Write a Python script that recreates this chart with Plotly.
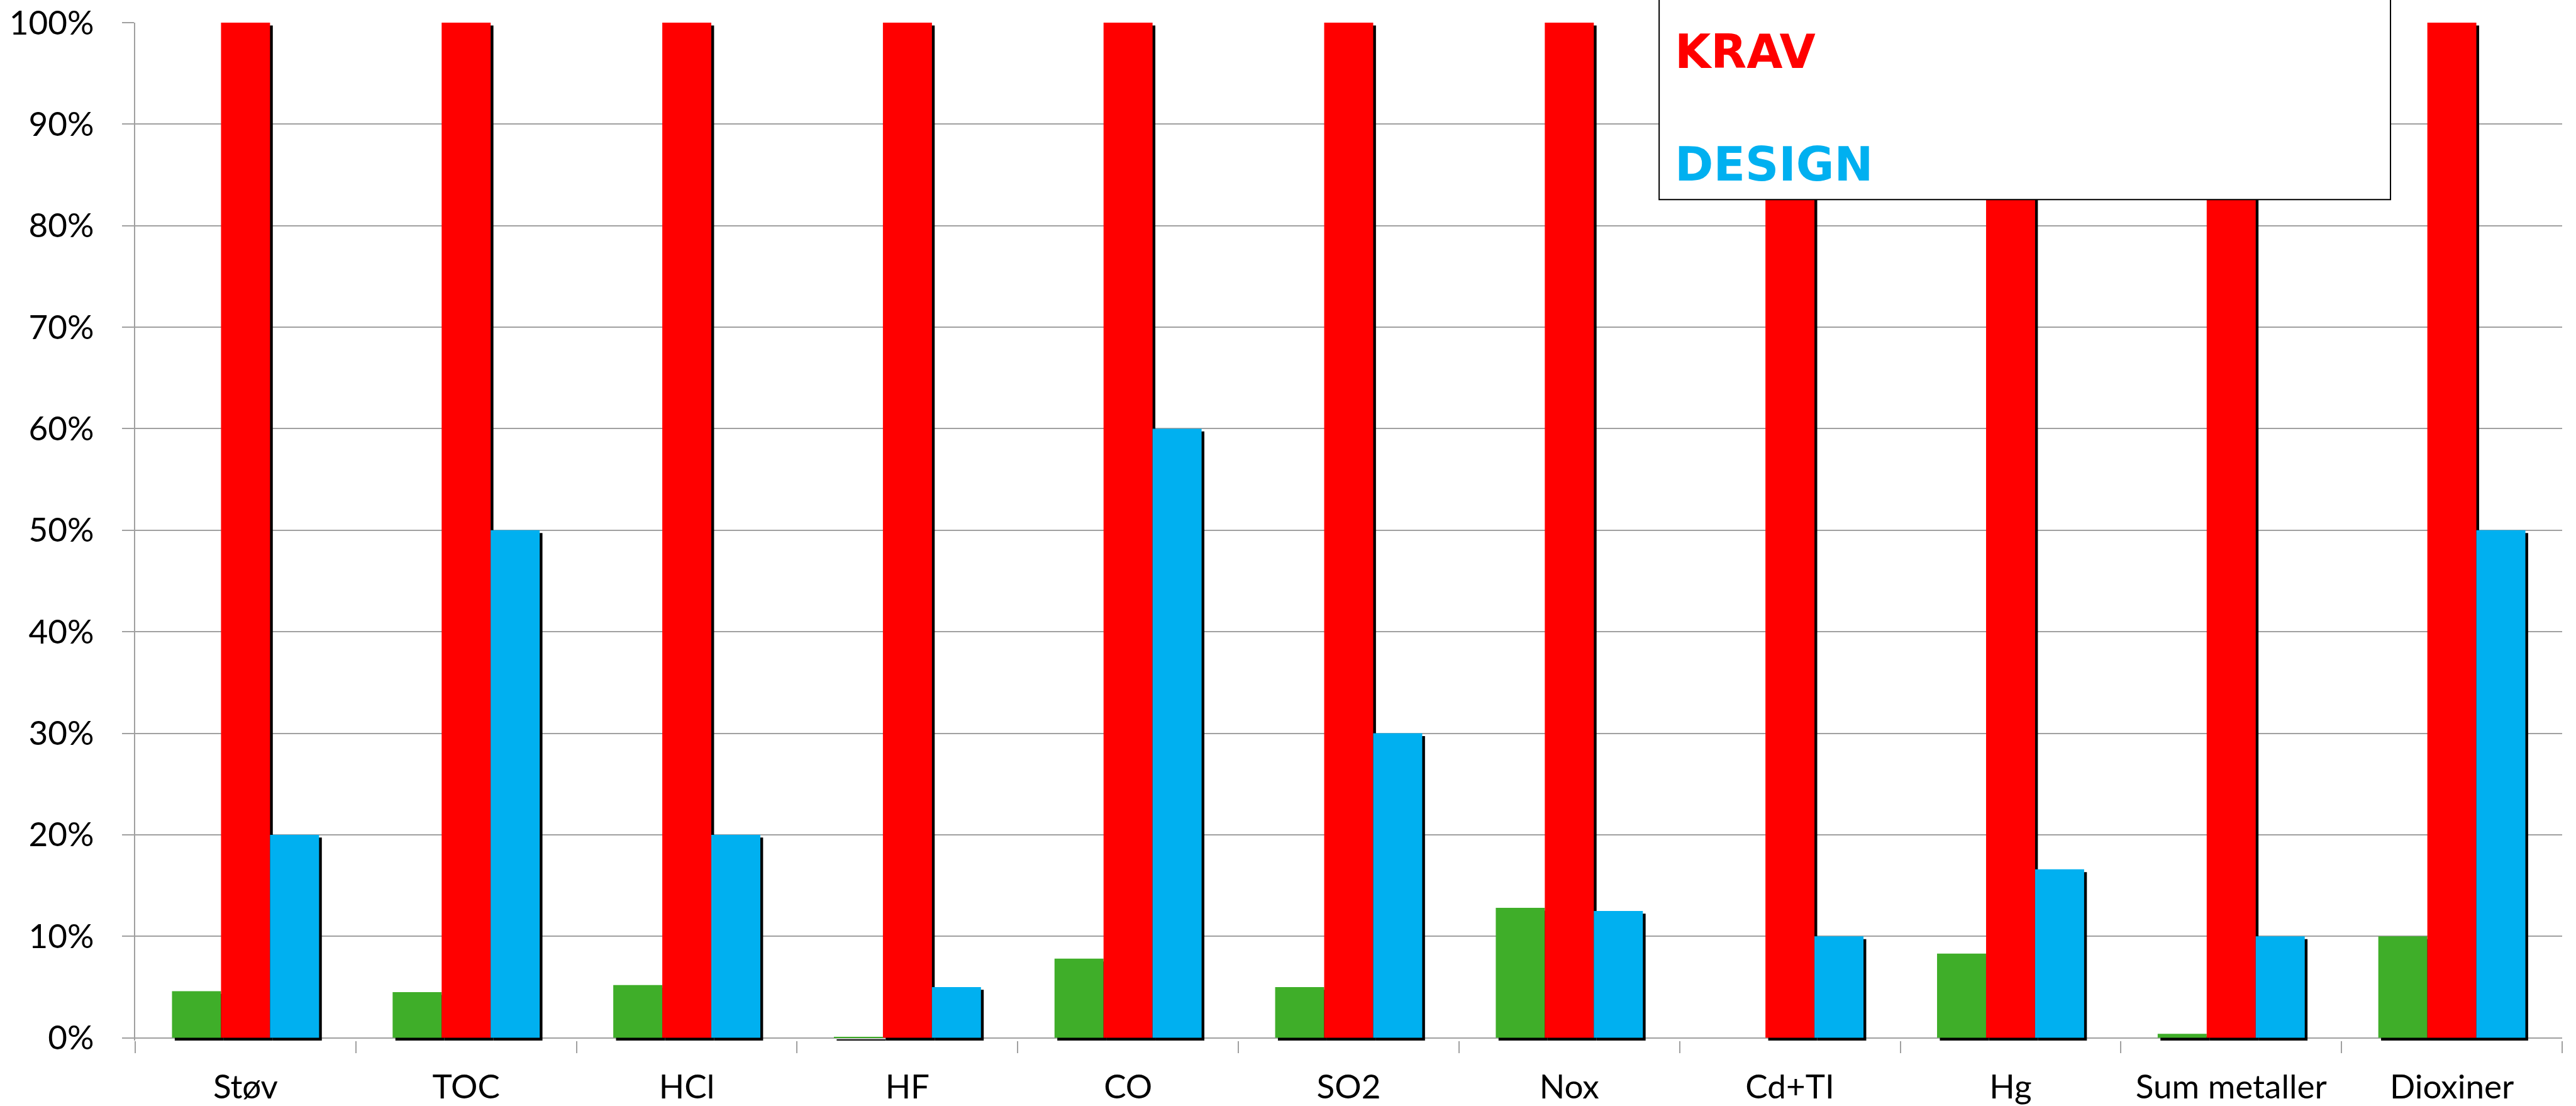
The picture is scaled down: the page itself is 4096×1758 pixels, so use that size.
import plotly.graph_objects as go

# ---- data ----
categories = ["Støv", "TOC", "HCl", "HF", "CO", "SO2", "Nox", "Cd+TI", "Hg", "Sum metaller", "Dioxiner"]
utslipp = [0.046, 0.045, 0.052, 0.001, 0.078, 0.050, 0.128, 0.0, 0.083, 0.004, 0.100]
krav = [1.0, 1.0, 1.0, 1.0, 1.0, 1.0, 1.0, 1.0, 1.0, 1.0, 1.0]
design = [0.20, 0.50, 0.20, 0.05, 0.60, 0.30, 0.125, 0.10, 0.166, 0.10, 0.50]
y_ticks = [0, 0.1, 0.2, 0.3, 0.4, 0.5, 0.6, 0.7, 0.8, 0.9, 1.0]
series = [("UTSLIPP", utslipp, "#3FAE29"), ("KRAV", krav, "#FF0000"), ("DESIGN", design, "#00B0F0")]

# ---- layout geometry (pixels) ----
W, H = 4096, 1758
ml, mr, mt = 214.6, 22, 35.5
unit_px = 1614.5            # pixels per 100%
shadow_px = 4.4
d = shadow_px / unit_px     # y-range extension below zero to show shadow
plot_h = unit_px * (1 + d)
mb = H - mt - plot_h
plot_w = W - ml - mr
cat_px = plot_w / len(categories)
dx = shadow_px / cat_px

bw = 0.2222
offsets = [-1.5 * bw, -0.5 * bw, 0.5 * bw]

fig = go.Figure()
# shadows first
for (name, vals, col), off in zip(series, offsets):
    fig.add_trace(go.Bar(x=categories, y=vals, base=[-d] * len(vals), width=bw, offset=off + dx,
                         marker=dict(color="#000000", line=dict(width=0)), showlegend=False,
                         hoverinfo="skip"))
for (name, vals, col), off in zip(series, offsets):
    fig.add_trace(go.Bar(x=categories, y=vals, name=name, width=bw, offset=off,
                         marker=dict(color=col, line=dict(width=0)), showlegend=False))

grid = "#a0a0a0"
tick_font = dict(family="Lato, 'Open Sans', sans-serif", size=53, color="#000000")
fig.update_layout(
    width=W, height=H, barmode="overlay",
    margin=dict(l=ml, r=mr, t=mt, b=mb, pad=0, autoexpand=False),
    paper_bgcolor="white", plot_bgcolor="white",
    showlegend=False,
    xaxis=dict(type="category", tickson="boundaries", ticks="outside", ticklen=19, tickwidth=2,
               tickcolor=grid, showline=False, showgrid=False, tickfont=tick_font, automargin=False,
               ticklabelstandoff=38, range=[-0.5, len(categories) - 0.5]),
    yaxis=dict(range=[-d, 1.0], tickvals=y_ticks, tickformat=".0%", ticks="outside", ticklen=19,
               tickwidth=2, tickcolor=grid, showgrid=True, gridcolor=grid, gridwidth=2,
               showline=True, linecolor=grid, linewidth=2, zeroline=False, tickfont=tick_font,
               automargin=False, ticklabelstandoff=34),
)

# legend box (drawn over bars, extends above the figure as in the original)
def px_x(px):
    return (px - ml) / plot_w

def px_y(py):
    return (mt + plot_h - py) / plot_h

fig.add_shape(type="rect", xref="paper", yref="paper", x0=px_x(2638), x1=px_x(3801),
              y0=px_y(317), y1=1.2, fillcolor="white", line=dict(color="black", width=2),
              layer="above")
leg_font = "'DejaVu Sans', Verdana, sans-serif"
for (name, vals, col), ypx in zip(series[1:], [82, 261]):
    fig.add_annotation(xref="paper", yref="paper", x=px_x(2661), y=px_y(ypx), xanchor="left",
                       yanchor="middle", text="<b>%s</b>" % name, showarrow=False,
                       font=dict(family=leg_font, size=74, color=col))

fig.write_html("out.html", config={"displayModeBar": False},
               post_script="document.body.style.margin='0';document.body.style.overflow='hidden';")
